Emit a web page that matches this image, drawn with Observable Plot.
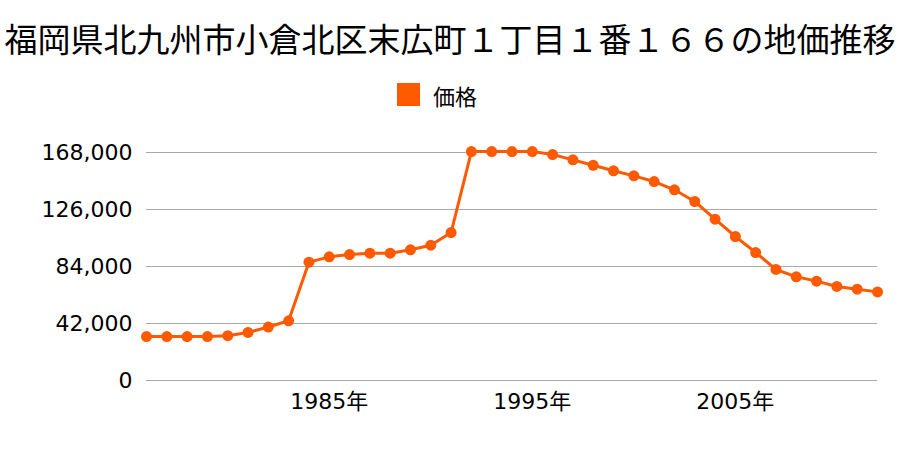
<!DOCTYPE html>
<html>
<head>
<meta charset="utf-8">
<script src="https://cdn.jsdelivr.net/npm/d3@7"></script>
<script src="https://cdn.jsdelivr.net/npm/@observablehq/plot@0.6"></script>
<style>
  html, body { margin: 0; padding: 0; background: #fff; }
  #wrap { position: relative; width: 900px; height: 450px; overflow: hidden; font-family: "DejaVu Sans", "Noto Sans CJK JP", sans-serif; color: #000; }
  #title { position: absolute; left: 0; top: 22px; width: 900px; text-align: center; font-family: "Noto Sans CJK JP", sans-serif; font-size: 33px; line-height: 33px; white-space: nowrap; }
  #legend { position: absolute; left: 397px; top: 83px; height: 23px; display: flex; align-items: center; font-family: "Noto Sans CJK JP", sans-serif; font-size: 22px; }
  #legend .sw { width: 23px; height: 23px; background: #ff5a00; margin-right: 13px; }
  #chart { position: absolute; left: 0; top: 120px; }
</style>
</head>
<body>
<div id="wrap">
  <div id="title">福岡県北九州市小倉北区末広町１丁目１番１６６の地価推移</div>
  <div id="legend"><div class="sw"></div><span>価格</span></div>
  <div id="chart"></div>
</div>
<script>
const years = [1976, 1977, 1978, 1979, 1980, 1981, 1982, 1983, 1984, 1985,
  1986, 1987, 1988, 1989, 1990, 1991, 1992, 1993, 1994, 1995,
  1996, 1997, 1998, 1999, 2000, 2001, 2002, 2003, 2004, 2005,
  2006, 2007, 2008, 2009, 2010, 2011, 2012];
const prices = [32400, 32400, 32400, 32400, 33000, 35400, 39400, 44000, 87200, 91100,
  92800, 93800, 93800, 96300, 99700, 109000, 168700, 168700, 168700, 168700,
  166500, 162600, 158600, 154500, 150800, 146600, 140500, 131900, 118900, 106100,
  94300, 81800, 76400, 73200, 69300, 67300, 65300];
const yTicks = [0, 42000, 84000, 126000, 168000];
const xTicks = [1985, 1995, 2005];
const seriesName = "価格";

const data = years.map((y, i) => ({year: y, price: prices[i]}));
const color = "#ff5a00";

const chart = Plot.plot({
  width: 900,
  height: 330,
  marginLeft: 146,
  marginRight: 23,
  marginTop: 32,
  marginBottom: 70,
  style: {fontFamily: "'DejaVu Sans', 'Noto Sans CJK JP', sans-serif", fontSize: "22px", color: "#000", background: "transparent"},
  x: {domain: [1976, 2012]},
  y: {domain: [0, 168000]},
  marks: [
    Plot.gridY(yTicks, {stroke: "#aaaaaa", strokeOpacity: 1, strokeWidth: 1}),
    Plot.axisY(yTicks, {tickSize: 0, tickPadding: 14, tickFormat: d3.format(","), fontSize: 22, label: null}),
    Plot.axisX(xTicks, {tickSize: 0, tickPadding: 13, tickFormat: d => `${d}年`, fontSize: 22, label: null}),
    Plot.line(data, {x: "year", y: "price", stroke: color, strokeWidth: 3}),
    Plot.dot(data, {x: "year", y: "price", fill: color, r: 5.5})
  ]
});
document.getElementById("chart").appendChild(chart);
</script>
</body>
</html>
